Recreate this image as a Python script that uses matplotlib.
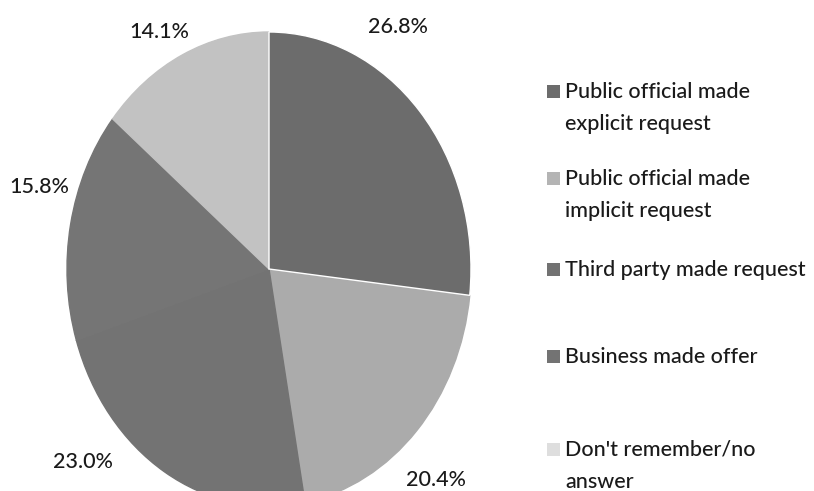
import matplotlib
matplotlib.use("Agg")
import matplotlib.pyplot as plt
from matplotlib.patches import Rectangle

categories = ["Public official made\nexplicit request",
              "Public official made\nimplicit request",
              "Third party made request",
              "Business made offer",
              "Don't remember/no\nanswer"]
values = [26.8, 20.4, 23.0, 15.8, 14.1]
pct_labels = ["26.8%", "20.4%", "23.0%", "15.8%", "14.1%"]
colors = ["#6c6c6c", "#ababab", "#737373", "#757575", "#c2c2c2"]
legend_colors = ["#6c6c6c", "#b4b4b4", "#727272", "#737373", "#dedede"]
edge_colors = ["white", "#ababab", "#737373", "#757575", "#c2c2c2"]

W, H = 814, 491
plt.rcParams['font.family'] = ['Lato', 'DejaVu Sans']
fig = plt.figure(figsize=(W / 100, H / 100), dpi=100)

cx, cy, rx, ry = 269, 269, 202, 237
ax = fig.add_axes([(cx - rx) / W, (H - cy - ry) / H, 2 * rx / W, 2 * ry / H])
wedges, _ = ax.pie(values, colors=colors, startangle=90, counterclock=False)
for w, ec in zip(wedges, edge_colors):
    w.set_edgecolor(ec)
    w.set_linewidth(1.0)
# draw the white-edged slice on top so its borders stay visible
wedges[0].set_zorder(3)
ax.set_aspect('auto')
ax.set_xlim(-1, 1)
ax.set_ylim(-1, 1)
ax.axis('off')

# percentage label positions (pixel centres)
label_pos = [(398, 27), (436, 480), (83, 462), (39, 187), (159, 32)]
for txt, (x, y) in zip(pct_labels, label_pos):
    fig.text(x / W, 1 - y / H, txt, ha='center', va='center', fontsize=15.5,
             color='#1a1a1a', fontweight='medium')

# legend
entry_first_line = [92, 179, 270, 357, 450]
line_gap = 32
mx, tx = 547, 565
for lab, col, y0 in zip(categories, legend_colors, entry_first_line):
    fig.patches.append(Rectangle(((mx) / W, 1 - (y0 + 6) / H), 13 / W, 13 / H,
                                 transform=fig.transFigure, facecolor=col, edgecolor='none'))
    for i, line in enumerate(lab.split("\n")):
        fig.text(tx / W, 1 - (y0 + i * line_gap) / H, line, ha='left', va='center',
                 fontsize=15.5, color='#1a1a1a', fontweight='medium')

fig.savefig("out.png", dpi=100)
